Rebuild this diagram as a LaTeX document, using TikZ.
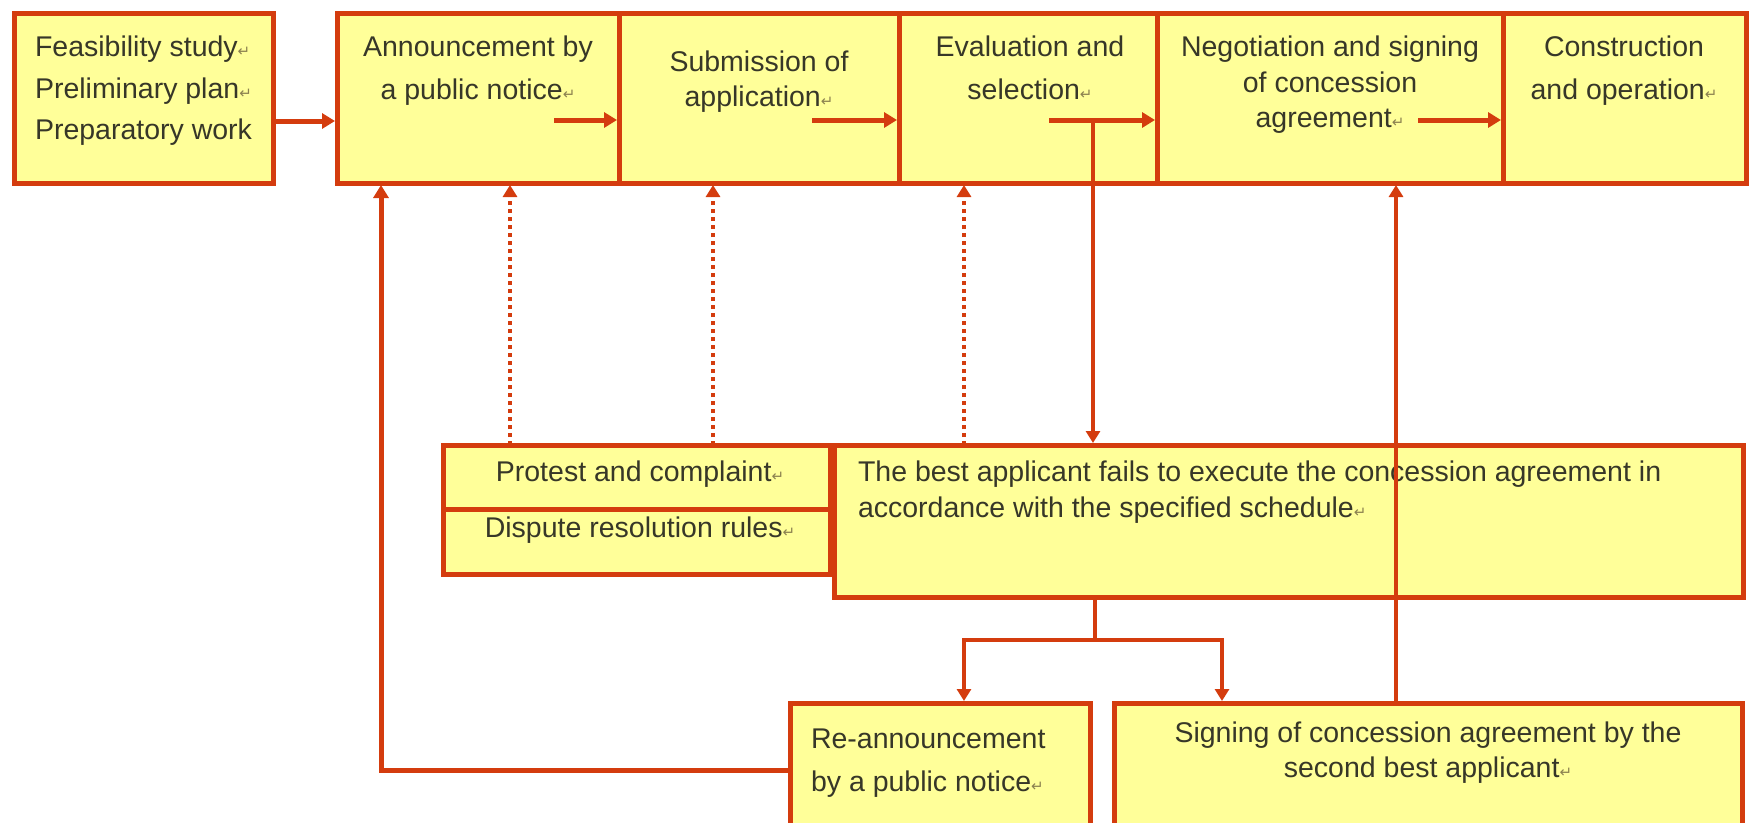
\documentclass[tikz,border=0pt]{standalone}
\usepackage{fontspec}
\setmainfont{Liberation Sans}
\newfontfamily\dvs{DejaVu Sans}
\usetikzlibrary{arrows.meta}
\definecolor{bord}{RGB}{212,60,14}
\definecolor{boxfill}{RGB}{255,255,153}
\definecolor{txtcol}{RGB}{55,55,40}
\definecolor{retcol}{RGB}{140,130,80}
\newcommand\retmark{{\dvs\fontsize{15}{15}\selectfont\textcolor{retcol}{↵}}}
\tikzset{
  box/.style={draw=bord, fill=boxfill, line width=5pt, inner sep=0pt, outer sep=0pt, anchor=north west},
  txt/.style={text=txtcol, inner sep=0pt, outer sep=0pt, anchor=north, align=center},
  arr/.style={draw=bord, line width=5pt, -{Triangle[length=13pt,width=15pt]}, shorten >=2pt},
  arrthin/.style={draw=bord, line width=3.5pt, -{Triangle[length=12pt,width=14pt]}, shorten >=2pt},
  thinline/.style={draw=bord, line width=3.5pt},
  dotarr/.style={draw=bord, line width=4pt, dash pattern=on 4pt off 4pt, -{Triangle[length=12pt,width=14pt]}, shorten >=2pt},
}
\begin{document}
\begin{tikzpicture}[x=1pt,y=-1pt]
\path[use as bounding box] (0,0) rectangle (1751,822);
\clip (0,0) rectangle (1751,822);
% top row boxes
\node[box, minimum width=259pt, minimum height=170pt] (b1) at (14,13) {};
\node[box, minimum width=282pt, minimum height=170pt] (b2) at (337,13) {};
\node[box, minimum width=280pt, minimum height=170pt] (b3) at (619,13) {};
\node[box, minimum width=258pt, minimum height=170pt] (b4) at (899,13) {};
\node[box, minimum width=346pt, minimum height=170pt] (b5) at (1157,13) {};
\node[box, minimum width=243pt, minimum height=170pt] (b6) at (1503,13) {};
% middle boxes
\node[box, minimum width=387pt, minimum height=64pt] (protest) at (443,445) {};
\node[box, minimum width=387pt, minimum height=65pt] (dispute) at (443,509) {};
\node[box, minimum width=909pt, minimum height=152pt] (fail) at (834,445) {};
% bottom boxes
\node[box, minimum width=300pt, minimum height=160pt] (reann) at (790,703) {};
\node[box, minimum width=628pt, minimum height=160pt] (sign) at (1114,703) {};
% texts
\node[txt, anchor=north west, align=left, font=\fontsize{28.5}{41.5}\selectfont] (t1) at (35,36) {Feasibility study\retmark\\Preliminary plan\retmark\\Preparatory work};
\node[txt, font=\fontsize{28.5}{43}\selectfont] (t2) at (478,36) {Announcement by\\a public notice\retmark};
\node[txt, font=\fontsize{28.5}{35}\selectfont] (t3) at (759,51) {Submission of\\application\retmark};
\node[txt, font=\fontsize{28.5}{43}\selectfont] (t4) at (1030,36) {Evaluation and\\selection\retmark};
\node[txt, font=\fontsize{28.5}{35.5}\selectfont] (t5) at (1330,36) {Negotiation and signing\\of concession\\agreement\retmark};
\node[txt, font=\fontsize{28.5}{43}\selectfont] (t6) at (1624,36) {Construction\\and operation\retmark};
\node[txt, font=\fontsize{28.5}{35}\selectfont] (tp) at (640,461) {Protest and complaint\retmark};
\node[txt, font=\fontsize{28.5}{35}\selectfont] (td) at (640,517) {Dispute resolution rules\retmark};
\node[txt, anchor=north west, align=left, font=\fontsize{28.5}{36}\selectfont] (tf) at (858,461) {The best applicant fails to execute the concession agreement in\\accordance with the specified schedule\retmark};
\node[txt, anchor=north west, align=left, font=\fontsize{28.5}{43}\selectfont] (tr) at (811,729) {Re-announcement\\by a public notice\retmark};
\node[txt, font=\fontsize{28.5}{35}\selectfont] (ts) at (1428,722) {Signing of concession agreement by the\\second best applicant\retmark};
% coordinates
\coordinate (r1) at (273,121);
\coordinate (s2) at (554,120);
\coordinate (s3) at (812,120);
\coordinate (s4) at (1049,120);
\coordinate (s5) at (1418,120);
\coordinate (j4) at (1093,120);
\coordinate (d1) at (510,0);
\coordinate (d2) at (713,0);
\coordinate (d3) at (964,0);
\coordinate (rr) at (381,770);
\coordinate (sp) at (1095,640);
\coordinate (k1) at (964,640);
\coordinate (k2) at (1222,640);
\coordinate (m) at (1396,0);
% top row arrows
\draw[arr] (r1) -- (r1 -| b2.west);
\draw[arr] (s2) -- (s2 -| b3.west);
\draw[arr] (s3) -- (s3 -| b4.west);
\draw[arr] (s4) -- (s4 -| b5.west);
\draw[arr] (s5) -- (s5 -| b6.west);
% evaluation down to failure box
\draw[arrthin] (j4) -- (j4 |- fail.north);
% dotted protests
\draw[dotarr] (d1 |- protest.north) -- (d1 |- b2.south);
\draw[dotarr] (d2 |- protest.north) -- (d2 |- b3.south);
\draw[dotarr] (d3 |- fail.north) -- (d3 |- b4.south);
% re-announcement return
\draw[arr] (reann.west |- rr) -- (rr) -- (rr |- b2.south);
% split
\draw[thinline] (sp |- fail.south) -- (sp);
\draw[arrthin] (sp) -- (k1) -- (k1 |- reann.north);
\draw[arrthin] (sp) -- (k2) -- (k2 |- sign.north);
% second best up to negotiation
\draw[arrthin] (m |- sign.north) -- (m |- b5.south);
\end{tikzpicture}
\end{document}
